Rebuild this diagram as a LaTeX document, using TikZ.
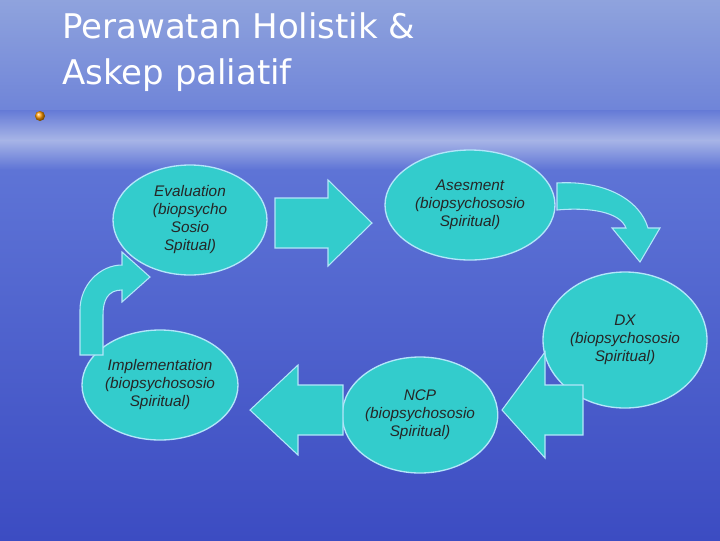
\documentclass[tikz,border=0pt]{standalone}
\usepackage{fontspec}
\setmainfont{Liberation Sans}
\newfontfamily\titlefont{DejaVu Sans}
\usetikzlibrary{shapes.geometric}
\definecolor{teal1}{HTML}{33CCCC}
\definecolor{bgtop}{HTML}{8FA3DD}
\definecolor{bgmid}{HTML}{5E74D6}
\definecolor{bgbot}{HTML}{3C4CC2}
\tikzset{
 bubble/.style={ellipse, fill=teal1, draw=cyan!30, line width=1pt, align=center, font=\itshape\fontsize{11.5}{13.5}\selectfont, text=black!85, inner sep=0pt},
 blk/.style={fill=teal1, draw=cyan!30, line width=0.8pt}
}
\begin{document}
\begin{tikzpicture}[x=0.75pt,y=-0.75pt]
\useasboundingbox (0,0) rectangle (720,540);
\shade[top color=bgtop, bottom color=bgmid] (0,0) rectangle (720,170);
\shade[top color=bgmid, bottom color=bgbot] (0,170) rectangle (720,540);
\shade[top color=bgmid, bottom color=bgmid, middle color=white!60!bgtop, opacity=0.6] (0,110) rectangle (720,170);
\node[anchor=north west, align=left, text=white, inner sep=0pt, font=\titlefont\fontsize{25.5}{35}\selectfont] (title) at (62,12) {Perawatan Holistik \&\\Askep paliatif};
\shade[ball color=orange!80!yellow] (40,116) circle (5);
\node[bubble, minimum width=115.5pt, minimum height=82.5pt] (ev) at (190,220) {Evaluation\\(biopsycho\\Sosio\\Spitual)};
\node[bubble, minimum width=127.5pt, minimum height=82.5pt] (as) at (470,205) {Asesment\\(biopsychososio\\Spiritual)};
\node[bubble, minimum width=123pt, minimum height=102pt] (dx) at (625,340) {DX\\(biopsychososio\\Spiritual)};
\node[bubble, minimum width=115.5pt, minimum height=87pt] (ncp) at (420,415) {NCP\\(biopsychososio\\Spiritual)};
\node[bubble, minimum width=117pt, minimum height=82.5pt] (im) at (160,385) {Implementation\\(biopsychososio\\Spiritual)};
% block arrows
\draw[blk] (275,198) -- (328,198) -- (328,180) -- (372,223) -- (328,266) -- (328,248) -- (275,248) -- cycle;
\draw[blk] (583,385) -- (545,385) -- (545,352) -- (502,410) -- (545,458) -- (545,435) -- (583,435) -- cycle;
\draw[blk] (343,385) -- (298,385) -- (298,365) -- (250,410) -- (298,455) -- (298,435) -- (343,435) -- cycle;
% curved arrows
\draw[blk] (557,183) .. controls (605,180) and (640,200) .. (648,228) -- (660,228) -- (640,262) -- (612,228) -- (626,228) .. controls (620,212) and (590,207) .. (557,210) -- cycle;
\draw[blk] (80,355) -- (80,310) .. controls (80,285) and (100,265) .. (122,265) -- (122,252) -- (150,277) -- (122,302) -- (122,290) .. controls (108,290) and (103,300) .. (103,315) -- (103,355) -- cycle;
\end{tikzpicture}
\end{document}
